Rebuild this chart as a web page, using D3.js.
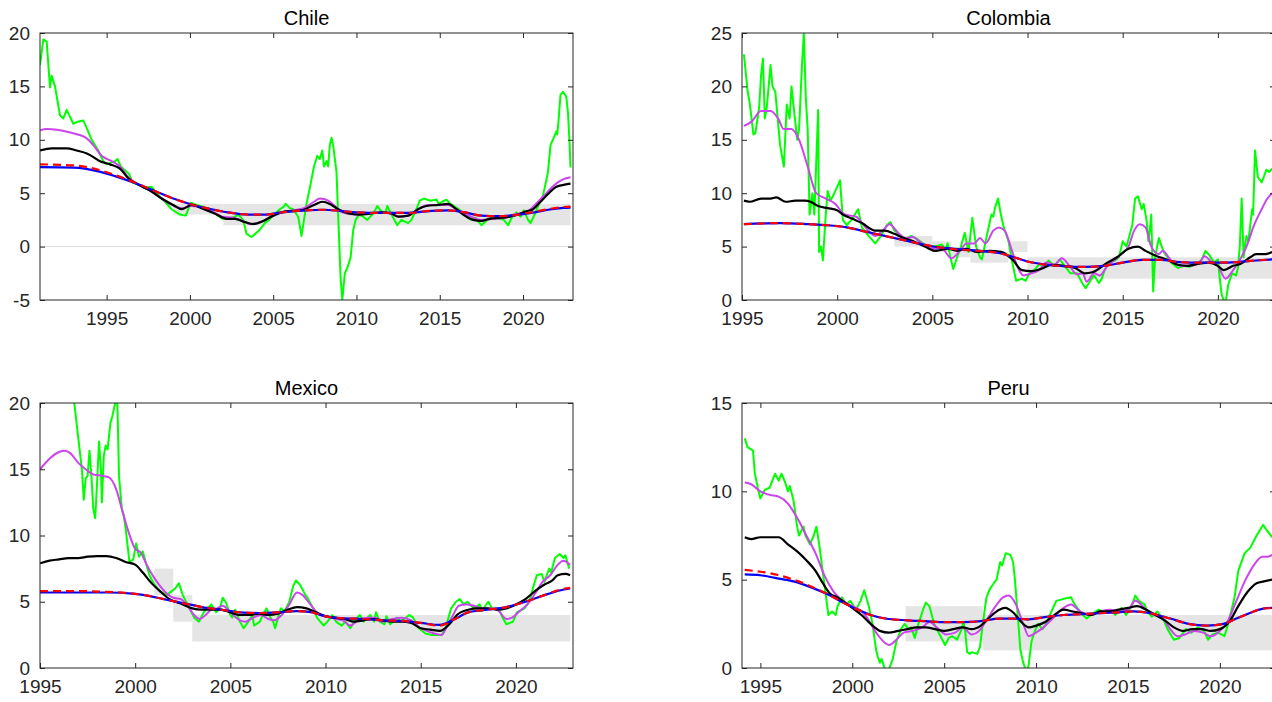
<!DOCTYPE html>
<html>
<head>
<meta charset="utf-8">
<script src="https://cdn.jsdelivr.net/npm/d3@7"></script>
<style>
  html, body { margin: 0; padding: 0; background: #fff; }
  svg { display: block; font-family: "Liberation Sans", Arial, sans-serif; }
</style>
</head>
<body>
<svg id="chart" width="1272" height="702"></svg>
<script>
// ---- Chile ----
const chileGreen = [[1991.0,17.0],[1991.2,19.4],[1991.4,19.2],[1991.6,14.9],[1991.7,16.0],[1991.9,15.0],[1992.2,12.3],[1992.4,12.0],[1992.6,12.8],[1993.0,11.5],[1993.25,11.7],[1993.6,11.8],[1993.75,11.3],[1994.1,10.0],[1994.5,9.0],[1994.8,8.0],[1995.0,7.7],[1995.5,8.0],[1995.65,8.2],[1995.85,7.5],[1996.2,7.0],[1996.35,6.8],[1996.55,6.0],[1996.9,5.8],[1997.3,5.5],[1997.7,5.6],[1998.0,5.0],[1998.3,4.5],[1998.5,4.2],[1998.9,3.5],[1999.4,3.0],[1999.75,2.9],[1999.9,3.5],[2000.05,4.1],[2000.4,3.9],[2000.85,3.7],[2001.2,3.5],[2001.6,3.0],[2001.95,2.6],[2002.3,2.6],[2002.7,2.8],[2002.9,3.0],[2003.2,2.5],[2003.4,1.2],[2003.7,0.9],[2004.15,1.5],[2004.5,2.2],[2004.75,2.5],[2005.05,3.0],[2005.4,3.5],[2005.6,3.7],[2005.75,4.0],[2006.0,3.6],[2006.2,3.5],[2006.5,2.8],[2006.7,1.0],[2006.85,2.5],[2007.0,4.0],[2007.2,5.5],[2007.45,7.5],[2007.65,8.5],[2007.8,8.2],[2007.95,9.0],[2008.05,7.5],[2008.2,8.0],[2008.3,7.5],[2008.4,9.5],[2008.5,10.2],[2008.6,9.5],[2008.8,7.0],[2008.9,3.0],[2009.05,-3.0],[2009.15,-5.0],[2009.3,-2.5],[2009.45,-2.0],[2009.55,-1.5],[2009.65,-1.0],[2009.8,1.5],[2009.95,2.5],[2010.15,3.0],[2010.4,2.8],[2010.65,2.5],[2010.95,3.0],[2011.15,3.5],[2011.25,3.8],[2011.5,3.3],[2011.75,3.2],[2011.85,3.8],[2012.1,3.0],[2012.45,2.0],[2012.7,2.5],[2013.1,2.2],[2013.3,2.5],[2013.6,3.5],[2013.8,4.3],[2014.05,4.5],[2014.45,4.3],[2014.8,4.4],[2014.95,4.0],[2015.15,4.2],[2015.4,4.4],[2015.65,4.0],[2016.15,3.5],[2016.5,3.0],[2016.9,2.5],[2017.15,2.7],[2017.5,2.0],[2017.85,2.5],[2018.2,2.8],[2018.6,2.6],[2018.85,2.5],[2019.1,2.0],[2019.35,2.8],[2019.6,3.2],[2019.85,2.8],[2020.05,3.4],[2020.3,2.5],[2020.45,2.2],[2020.7,3.0],[2020.9,3.8],[2021.15,4.5],[2021.3,5.5],[2021.5,7.0],[2021.65,9.5],[2021.85,10.2],[2022.0,10.8],[2022.05,10.5],[2022.1,11.2],[2022.25,14.2],[2022.4,14.5],[2022.6,14.0],[2022.7,12.5],[2022.8,9.5],[2022.85,7.4]];
const chileMagenta = [[1991.0,10.9],[1991.4,11.0],[1992.75,10.7],[1993.75,10.2],[1994.2,9.5],[1994.7,8.5],[1995.3,8.0],[1995.8,7.5],[1996.3,6.5],[1996.9,5.8],[1997.65,5.2],[1998.3,4.5],[1998.9,3.9],[1999.5,3.6],[2000.1,3.8],[2000.85,3.6],[2001.45,3.2],[2001.95,2.8],[2002.55,2.7],[2003.05,2.5],[2003.6,2.1],[2004.25,2.3],[2004.9,2.8],[2005.5,3.2],[2006.25,3.4],[2006.85,3.6],[2007.45,4.2],[2007.8,4.5],[2008.3,4.3],[2008.7,3.8],[2009.15,3.2],[2009.9,3.0],[2010.65,3.1],[2011.4,3.2],[2012.0,3.1],[2012.6,2.8],[2013.1,2.9],[2013.7,3.5],[2014.3,3.9],[2015.05,3.9],[2015.5,3.9],[2016.0,3.5],[2016.75,2.9],[2017.5,2.5],[2018.2,2.6],[2018.95,2.7],[2019.45,3.0],[2020.05,3.2],[2020.45,3.5],[2020.9,4.2],[2021.4,5.0],[2021.9,5.8],[2022.4,6.3],[2022.85,6.5]];
const chileBlack = [[1991.0,9.0],[1991.7,9.2],[1992.6,9.2],[1993.2,9.0],[1993.85,8.7],[1994.6,8.0],[1995.2,7.7],[1995.8,7.3],[1996.3,6.4],[1996.9,5.8],[1997.65,5.2],[1998.3,4.5],[1999.0,3.9],[1999.5,3.5],[2000.1,3.9],[2000.7,3.6],[2001.6,3.0],[2002.2,2.6],[2002.7,2.6],[2003.3,2.3],[2003.8,2.1],[2004.4,2.4],[2005.0,2.9],[2005.75,3.3],[2006.7,3.4],[2007.45,3.9],[2007.95,4.2],[2008.4,4.0],[2008.9,3.5],[2009.55,3.1],[2010.15,3.0],[2010.9,3.1],[2011.5,3.2],[2012.1,3.1],[2012.5,2.8],[2013.1,2.9],[2013.7,3.5],[2014.2,3.8],[2014.9,3.9],[2015.5,4.0],[2016.0,3.5],[2016.5,2.9],[2017.0,2.5],[2017.5,2.4],[2018.0,2.6],[2018.7,2.7],[2019.2,2.8],[2019.7,3.0],[2020.2,3.3],[2020.6,3.5],[2021.05,4.2],[2021.55,5.0],[2022.0,5.6],[2022.5,5.8],[2022.85,5.9]];
const chileRed = [[1991.0,7.7],[1993.0,7.6],[1994.5,7.2],[1995.5,6.7],[1996.7,6.0],[1997.9,5.2],[1999.0,4.5],[2000.2,3.9],[2001.3,3.5],[2002.3,3.2],[2003.5,3.0],[2004.5,3.0],[2005.5,3.2],[2007.0,3.4],[2008.0,3.45],[2009.0,3.35],[2010.0,3.2],[2011.5,3.15],[2013.0,3.15],[2014.5,3.35],[2015.5,3.4],[2016.5,3.2],[2017.5,2.9],[2018.5,2.85],[2019.5,2.95],[2020.5,3.2],[2021.5,3.5],[2022.4,3.7],[2022.85,3.75]];
const chileBlue = [[1991.0,7.45],[1993.0,7.4],[1994.5,7.05],[1995.5,6.6],[1996.7,5.95],[1997.9,5.2],[1999.0,4.5],[2000.2,3.9],[2001.3,3.5],[2002.3,3.2],[2003.5,3.0],[2004.5,3.0],[2005.5,3.2],[2007.0,3.4],[2008.0,3.45],[2009.0,3.35],[2010.0,3.2],[2011.5,3.15],[2013.0,3.15],[2014.5,3.35],[2015.5,3.4],[2016.5,3.2],[2017.5,2.9],[2018.5,2.85],[2019.5,2.95],[2020.5,3.15],[2021.5,3.45],[2022.4,3.62],[2022.85,3.65]];
const chileBands = [[1999.0,2002.0,3,4],[2002.0,2022.85,2,4]];

// ---- Colombia ----
const colombiaGreen = [[1995.1,23.0],[1995.3,19.5],[1995.4,18.5],[1995.6,15.5],[1995.7,15.6],[1995.9,18.0],[1996.0,21.0],[1996.1,22.6],[1996.2,17.0],[1996.3,18.0],[1996.4,20.0],[1996.5,22.0],[1996.6,20.0],[1996.75,19.5],[1997.0,14.5],[1997.2,12.5],[1997.35,18.3],[1997.5,17.0],[1997.6,20.0],[1997.75,17.5],[1997.9,15.0],[1998.0,16.0],[1998.15,22.0],[1998.25,25.0],[1998.35,19.0],[1998.45,16.0],[1998.55,8.0],[1998.7,10.0],[1998.8,8.0],[1999.0,17.8],[1999.05,4.5],[1999.15,5.0],[1999.25,3.7],[1999.4,8.0],[1999.5,10.2],[1999.65,9.3],[1999.85,10.0],[2000.15,11.2],[2000.3,7.5],[2000.5,7.0],[2000.75,7.5],[2001.1,8.5],[2001.3,6.8],[2001.65,6.0],[2002.0,5.3],[2002.3,6.0],[2002.6,7.0],[2002.8,7.3],[2003.0,6.5],[2003.35,6.0],[2003.55,5.7],[2003.9,6.0],[2004.2,5.7],[2004.5,5.3],[2004.8,5.0],[2005.1,5.0],[2005.5,5.2],[2005.7,4.7],[2005.8,5.3],[2005.95,4.0],[2006.1,2.9],[2006.3,4.0],[2006.5,5.0],[2006.7,6.3],[2006.9,4.5],[2007.1,7.7],[2007.3,5.0],[2007.5,4.0],[2007.6,3.8],[2007.8,5.5],[2008.1,8.0],[2008.2,7.8],[2008.3,8.7],[2008.45,9.5],[2008.6,8.0],[2008.75,6.8],[2009.0,5.5],[2009.2,3.5],[2009.4,1.8],[2009.7,2.0],[2009.9,1.8],[2010.1,2.5],[2010.35,2.8],[2010.65,3.4],[2010.85,3.0],[2011.1,3.7],[2011.4,3.2],[2011.7,3.8],[2011.95,3.2],[2012.25,2.5],[2012.6,2.5],[2012.9,1.5],[2013.05,1.1],[2013.3,1.8],[2013.5,2.3],[2013.75,1.6],[2013.9,2.0],[2014.05,2.8],[2014.25,3.5],[2014.6,3.7],[2014.8,4.0],[2015.0,5.5],[2015.2,5.0],[2015.5,7.0],[2015.65,9.5],[2015.8,9.7],[2016.0,8.5],[2016.1,9.0],[2016.25,7.5],[2016.35,5.5],[2016.45,7.0],[2016.5,8.0],[2016.6,0.8],[2016.7,4.0],[2016.9,5.8],[2017.15,4.5],[2017.35,4.0],[2017.55,3.5],[2017.9,3.0],[2018.2,3.2],[2018.5,3.1],[2018.95,3.4],[2019.15,3.8],[2019.35,4.6],[2019.55,4.2],[2019.8,3.5],[2020.0,3.8],[2020.1,2.0],[2020.2,0.5],[2020.3,0.0],[2020.4,-0.3],[2020.55,1.5],[2020.75,2.5],[2020.95,2.3],[2021.05,3.0],[2021.15,5.0],[2021.25,9.5],[2021.35,4.0],[2021.5,6.0],[2021.6,5.5],[2021.8,8.5],[2021.85,8.0],[2021.95,14.0],[2022.1,11.5],[2022.3,11.0],[2022.55,12.2],[2022.7,12.0],[2022.85,12.3]];
const colombiaMagenta = [[1995.1,16.3],[1995.5,16.7],[1996.0,17.7],[1996.5,17.7],[1996.9,17.0],[1997.2,16.0],[1997.6,16.0],[1998.0,15.0],[1998.45,12.5],[1998.9,10.0],[1999.4,9.5],[1999.9,9.0],[2000.4,8.0],[2001.0,7.8],[2001.4,7.0],[2002.0,6.0],[2002.4,6.5],[2002.75,7.1],[2003.2,6.3],[2003.6,5.8],[2004.0,5.9],[2004.3,5.5],[2004.7,5.0],[2005.2,4.8],[2005.5,4.8],[2006.0,3.9],[2006.4,4.5],[2006.8,5.3],[2007.2,5.3],[2007.5,5.8],[2007.8,5.3],[2008.2,6.5],[2008.5,6.8],[2008.8,6.5],[2009.2,4.5],[2009.5,3.0],[2009.8,2.3],[2010.2,2.5],[2010.6,2.8],[2011.0,3.5],[2011.4,3.3],[2011.8,3.9],[2012.2,3.2],[2012.6,2.4],[2012.9,2.5],[2013.1,1.7],[2013.5,2.5],[2013.8,2.3],[2014.2,3.2],[2014.6,3.8],[2015.0,4.4],[2015.3,5.0],[2015.6,6.5],[2015.9,7.1],[2016.2,6.8],[2016.5,5.0],[2016.9,4.3],[2017.1,4.6],[2017.5,3.8],[2018.0,3.2],[2018.5,3.2],[2019.0,3.4],[2019.3,4.1],[2019.7,3.5],[2020.0,3.2],[2020.4,2.0],[2020.8,2.8],[2021.1,3.6],[2021.5,5.0],[2021.9,7.0],[2022.3,8.5],[2022.6,9.5],[2022.85,10.0]];
const colombiaBlack = [[1995.1,9.3],[1995.4,9.2],[1996.0,9.5],[1996.5,9.5],[1996.8,9.6],[1997.3,9.2],[1997.8,9.3],[1998.3,9.3],[1998.6,9.2],[1999.0,8.8],[1999.5,8.6],[2000.0,8.4],[2000.3,8.0],[2000.8,7.6],[2001.3,7.2],[2002.0,6.5],[2002.5,6.5],[2003.0,6.2],[2003.5,5.8],[2004.0,5.5],[2004.6,5.0],[2005.2,4.6],[2005.8,4.8],[2006.3,4.6],[2006.8,4.8],[2007.3,4.5],[2008.0,4.6],[2008.6,4.5],[2009.2,3.8],[2009.7,2.8],[2010.2,2.7],[2010.7,2.9],[2011.3,3.3],[2011.9,3.2],[2012.5,3.0],[2013.0,2.5],[2013.4,2.6],[2014.2,3.5],[2014.7,4.0],[2015.3,4.8],[2015.8,5.0],[2016.2,4.6],[2016.8,4.1],[2017.3,3.8],[2017.9,3.3],[2018.4,3.2],[2019.0,3.4],[2019.5,3.5],[2020.0,3.2],[2020.3,2.8],[2020.8,3.2],[2021.2,3.4],[2021.7,4.0],[2022.0,4.3],[2022.5,4.3],[2022.85,4.5]];
const colombiaRed = [[1995.1,7.1],[1997.0,7.2],[1998.5,7.1],[1999.5,7.0],[2000.5,6.8],[2001.5,6.4],[2002.5,6.0],[2003.5,5.6],[2004.5,5.2],[2005.5,4.9],[2006.5,4.7],[2007.5,4.6],[2008.5,4.4],[2009.3,4.0],[2010.0,3.6],[2011.0,3.3],[2012.0,3.15],[2013.0,3.1],[2014.0,3.2],[2015.0,3.5],[2016.0,3.75],[2017.0,3.75],[2018.0,3.55],[2019.0,3.5],[2020.0,3.5],[2021.0,3.55],[2022.0,3.7],[2022.85,3.8]];
const colombiaBlue = [[1995.1,7.1],[1997.0,7.2],[1998.5,7.1],[1999.5,7.0],[2000.5,6.8],[2001.5,6.4],[2002.5,6.0],[2003.5,5.6],[2004.5,5.2],[2005.5,4.9],[2006.5,4.75],[2007.5,4.6],[2008.5,4.4],[2009.3,4.0],[2010.0,3.6],[2011.0,3.3],[2012.0,3.15],[2013.0,3.1],[2014.0,3.2],[2015.0,3.5],[2016.0,3.75],[2017.0,3.75],[2018.0,3.55],[2019.0,3.5],[2020.0,3.5],[2021.0,3.55],[2022.0,3.7],[2022.85,3.8]];
const colombiaBands = [[2003,2005,5,6],[2005,2006,4.5,5.5],[2006,2007,4,5],[2007,2009,3.5,4.5],[2009,2010,4.5,5.5],[2010,2023,2,4]];

// ---- Mexico ----
const mexicoGreen = [[1995.0,30.0],[1995.5,45.0],[1995.9,50.0],[1996.3,30.0],[1996.7,24.0],[1996.8,20.0],[1997.2,15.0],[1997.3,12.7],[1997.4,14.3],[1997.5,14.5],[1997.6,16.4],[1997.7,14.5],[1997.8,12.0],[1997.9,11.3],[1998.0,14.0],[1998.1,17.1],[1998.2,15.0],[1998.25,12.5],[1998.35,16.0],[1998.45,16.8],[1998.55,16.5],[1998.7,18.5],[1998.8,19.0],[1998.95,20.0],[1999.05,21.0],[1999.15,14.5],[1999.3,12.0],[1999.4,11.5],[1999.5,10.5],[1999.7,8.0],[1999.9,8.2],[2000.05,9.4],[2000.2,8.4],[2000.4,8.8],[2000.55,8.0],[2000.75,7.0],[2001.0,6.3],[2001.3,5.8],[2001.65,5.5],[2002.1,6.0],[2002.3,6.4],[2002.5,5.5],[2002.85,4.5],[2003.1,3.8],[2003.35,3.5],[2003.6,4.2],[2003.8,4.5],[2004.0,4.8],[2004.25,4.2],[2004.45,4.5],[2004.6,5.3],[2004.75,5.0],[2005.0,4.0],[2005.1,3.8],[2005.25,4.4],[2005.5,3.5],[2005.7,3.0],[2005.95,3.5],[2006.15,4.0],[2006.25,3.2],[2006.55,3.5],[2006.7,4.0],[2006.9,4.5],[2007.1,3.8],[2007.25,3.5],[2007.35,3.0],[2007.5,3.8],[2007.65,4.5],[2007.85,4.3],[2008.1,5.0],[2008.3,6.2],[2008.45,6.6],[2008.65,6.3],[2008.95,5.5],[2009.05,5.3],[2009.35,4.5],[2009.55,3.8],[2009.9,3.2],[2010.1,3.5],[2010.35,4.0],[2010.55,3.5],[2010.85,3.2],[2011.05,3.5],[2011.3,3.0],[2011.5,3.5],[2011.8,4.0],[2012.0,3.5],[2012.35,4.0],[2012.55,3.5],[2012.65,4.2],[2012.85,3.5],[2013.1,3.3],[2013.2,3.9],[2013.4,3.3],[2013.75,3.8],[2013.95,3.5],[2014.4,4.0],[2014.6,3.8],[2014.9,3.0],[2015.25,2.6],[2015.55,2.5],[2016.1,2.5],[2016.3,3.0],[2016.4,3.5],[2016.6,4.5],[2016.85,5.0],[2017.05,5.2],[2017.25,4.8],[2017.45,5.0],[2017.8,4.5],[2018.1,4.8],[2018.2,4.3],[2018.55,5.0],[2018.75,4.5],[2019.1,4.5],[2019.3,3.8],[2019.5,3.3],[2019.85,3.5],[2020.05,4.2],[2020.45,4.5],[2020.7,5.0],[2020.8,5.5],[2020.95,6.3],[2021.1,7.0],[2021.35,7.1],[2021.5,6.5],[2021.75,7.5],[2021.85,7.2],[2022.05,8.3],[2022.3,8.6],[2022.5,8.3],[2022.6,8.5],[2022.8,7.5]];
const mexicoMagenta = [[1995.0,15.0],[1995.5,15.8],[1996.0,16.3],[1996.3,16.4],[1996.6,16.2],[1997.0,15.5],[1997.4,15.0],[1997.8,14.6],[1998.3,14.5],[1998.6,14.4],[1999.0,13.5],[1999.3,12.0],[1999.6,10.5],[2000.0,9.0],[2000.3,8.7],[2000.6,7.8],[2001.0,6.8],[2001.3,6.2],[2001.6,5.7],[2002.0,5.3],[2002.4,5.2],[2002.7,4.8],[2003.1,4.0],[2003.4,3.7],[2003.7,4.0],[2004.0,4.4],[2004.3,4.5],[2004.6,4.7],[2005.0,4.2],[2005.5,3.6],[2005.8,3.5],[2006.2,3.8],[2006.6,4.0],[2007.0,3.7],[2007.3,3.6],[2007.7,4.0],[2008.1,4.8],[2008.5,5.7],[2008.8,5.5],[2009.2,4.8],[2009.7,4.0],[2010.1,3.9],[2010.5,3.7],[2010.9,3.6],[2011.3,3.2],[2011.7,3.6],[2012.2,3.8],[2012.6,3.8],[2013.0,3.5],[2013.5,3.7],[2014.0,3.8],[2014.5,3.6],[2015.0,3.0],[2015.5,2.7],[2016.1,2.5],[2016.4,3.2],[2016.7,4.0],[2017.0,4.7],[2017.4,4.8],[2017.8,4.7],[2018.2,4.5],[2018.7,4.5],[2019.1,4.3],[2019.5,3.7],[2019.8,3.8],[2020.2,4.3],[2020.6,4.8],[2021.0,5.6],[2021.4,6.5],[2021.8,7.0],[2022.2,7.8],[2022.5,8.1],[2022.85,7.8]];
const mexicoBlack = [[1995.0,7.9],[1995.5,8.1],[1996.0,8.2],[1996.5,8.3],[1997.0,8.3],[1997.5,8.4],[1998.0,8.45],[1998.5,8.45],[1999.0,8.3],[1999.5,8.0],[2000.0,7.8],[2000.4,7.2],[2000.8,6.5],[2001.3,5.8],[2001.8,5.2],[2002.5,4.8],[2003.0,4.5],[2003.5,4.4],[2004.0,4.4],[2004.5,4.4],[2005.0,4.2],[2005.5,4.0],[2006.0,4.0],[2006.5,4.1],[2007.0,4.0],[2007.5,4.1],[2008.0,4.4],[2008.5,4.6],[2009.0,4.5],[2009.5,4.2],[2010.0,3.9],[2010.5,3.8],[2011.0,3.7],[2011.5,3.5],[2012.0,3.6],[2012.5,3.7],[2013.0,3.6],[2013.5,3.5],[2014.0,3.5],[2014.5,3.4],[2015.0,3.0],[2015.5,2.9],[2016.0,2.8],[2016.5,3.3],[2016.9,4.0],[2017.5,4.4],[2018.0,4.5],[2018.5,4.5],[2019.0,4.4],[2019.5,4.5],[2020.0,4.8],[2020.5,5.2],[2021.0,5.8],[2021.5,6.3],[2021.9,6.6],[2022.2,7.0],[2022.6,7.1],[2022.85,7.0]];
const mexicoRed = [[1995.0,5.8],[1997.0,5.8],[1998.5,5.75],[2000.0,5.6],[2000.5,5.5],[2001.5,5.2],[2002.5,4.9],[2003.5,4.6],[2004.5,4.4],[2005.5,4.2],[2006.5,4.15],[2007.5,4.2],[2008.5,4.3],[2009.3,4.2],[2010.0,3.9],[2011.0,3.75],[2012.0,3.7],[2013.0,3.6],[2014.0,3.55],[2015.0,3.4],[2016.0,3.2],[2016.8,3.7],[2017.5,4.2],[2018.5,4.4],[2019.5,4.6],[2020.5,5.0],[2021.5,5.5],[2022.3,5.9],[2022.85,6.05]];
const mexicoBlue = [[1995.0,5.7],[1997.0,5.7],[1998.5,5.7],[2000.0,5.6],[2000.5,5.5],[2001.5,5.2],[2002.5,4.9],[2003.5,4.6],[2004.5,4.4],[2005.5,4.2],[2006.5,4.15],[2007.5,4.2],[2008.5,4.3],[2009.3,4.2],[2010.0,3.9],[2011.0,3.75],[2012.0,3.7],[2013.0,3.6],[2014.0,3.55],[2015.0,3.4],[2016.0,3.25],[2016.8,3.7],[2017.5,4.2],[2018.5,4.4],[2019.5,4.6],[2020.5,5.0],[2021.5,5.5],[2022.3,5.85],[2022.85,6.0]];
const mexicoBands = [[2001,2002,5.5,7.5],[2002,2003,3.5,5.5],[2003,2022.85,2,4]];

// ---- Peru ----
const peruGreen = [[1994.15,13.0],[1994.3,12.5],[1994.6,12.3],[1994.7,11.0],[1994.9,10.0],[1995.0,9.6],[1995.25,10.1],[1995.5,10.2],[1995.8,11.0],[1996.0,10.6],[1996.15,11.0],[1996.35,10.5],[1996.5,10.0],[1996.6,10.3],[1996.8,9.5],[1997.0,8.0],[1997.1,7.5],[1997.35,8.0],[1997.45,7.5],[1997.7,7.0],[1997.9,7.5],[1998.05,8.0],[1998.2,7.0],[1998.45,5.0],[1998.7,3.0],[1998.9,3.2],[1999.1,3.0],[1999.2,3.5],[1999.45,4.0],[1999.65,3.6],[1999.9,3.8],[2000.2,3.3],[2000.45,3.8],[2000.65,4.4],[2000.9,3.5],[2001.1,2.5],[2001.3,1.0],[2001.4,0.6],[2001.5,0.3],[2001.6,0.5],[2001.75,0.0],[2001.95,-0.2],[2002.2,0.5],[2002.4,1.5],[2002.65,2.2],[2002.85,2.5],[2003.05,2.2],[2003.2,2.3],[2003.4,1.7],[2003.6,2.5],[2003.85,3.3],[2004.0,3.7],[2004.2,3.5],[2004.45,2.5],[2004.7,2.0],[2005.05,1.3],[2005.25,1.7],[2005.45,1.8],[2005.7,1.6],[2005.95,2.2],[2006.05,2.6],[2006.15,2.0],[2006.25,0.9],[2006.4,0.8],[2006.5,0.9],[2006.8,0.8],[2006.95,1.2],[2007.1,2.5],[2007.3,4.0],[2007.5,4.5],[2007.7,4.8],[2007.85,5.0],[2008.05,6.0],[2008.15,5.8],[2008.35,6.5],[2008.6,6.4],[2008.75,6.0],[2008.85,5.0],[2009.0,3.0],[2009.15,1.0],[2009.3,0.3],[2009.4,0.0],[2009.5,-0.3],[2009.6,0.2],[2009.75,1.5],[2009.9,2.0],[2010.1,2.5],[2010.35,2.2],[2010.55,2.5],[2010.75,3.0],[2011.1,3.8],[2011.45,3.9],[2011.9,4.0],[2012.1,3.6],[2012.55,3.0],[2012.75,2.8],[2013.1,3.1],[2013.4,3.3],[2013.75,3.1],[2014.1,3.3],[2014.3,3.0],[2014.65,3.4],[2014.9,3.0],[2015.2,3.5],[2015.4,4.1],[2015.6,3.8],[2015.9,3.6],[2016.05,3.2],[2016.3,2.9],[2016.6,3.2],[2016.95,2.7],[2017.15,2.2],[2017.5,1.6],[2017.8,1.7],[2018.15,2.2],[2018.45,2.0],[2018.8,2.3],[2019.15,2.1],[2019.35,1.6],[2019.6,1.9],[2019.9,2.0],[2020.25,1.8],[2020.45,2.5],[2020.8,4.0],[2021.0,5.5],[2021.35,6.5],[2021.65,6.8],[2022.0,7.5],[2022.35,8.1],[2022.55,7.8],[2022.85,7.4]];
const peruMagenta = [[1994.15,10.5],[1994.5,10.4],[1995.0,10.0],[1995.5,9.8],[1996.0,9.7],[1996.5,9.3],[1997.0,8.5],[1997.5,7.5],[1998.0,6.5],[1998.5,5.2],[1999.0,4.3],[1999.5,3.8],[2000.0,3.5],[2000.4,3.3],[2000.7,3.0],[2001.3,2.0],[2001.8,1.4],[2002.0,1.3],[2002.4,1.6],[2002.8,2.0],[2003.3,2.1],[2003.8,2.3],[2004.2,2.6],[2004.6,2.3],[2005.1,1.9],[2005.6,2.0],[2006.0,2.3],[2006.5,1.9],[2006.9,2.1],[2007.3,2.7],[2007.8,3.5],[2008.2,4.0],[2008.5,4.1],[2008.9,3.6],[2009.3,2.5],[2009.6,1.8],[2010.0,2.0],[2010.4,2.3],[2010.9,2.8],[2011.5,3.4],[2011.9,3.6],[2012.4,3.2],[2012.9,3.0],[2013.5,3.2],[2014.0,3.3],[2014.5,3.2],[2015.0,3.3],[2015.4,3.8],[2015.9,3.4],[2016.4,3.0],[2016.9,2.8],[2017.3,2.2],[2017.7,1.8],[2018.1,1.9],[2018.6,2.1],[2019.1,2.0],[2019.5,1.8],[2020.0,2.1],[2020.4,2.6],[2020.9,3.8],[2021.4,5.0],[2021.9,5.9],[2022.3,6.3],[2022.6,6.3],[2022.85,6.4]];
const peruBlack = [[1994.15,7.4],[1994.5,7.3],[1995.0,7.4],[1995.5,7.4],[1996.0,7.4],[1996.5,7.0],[1997.0,6.6],[1997.5,6.1],[1998.0,5.5],[1998.4,4.8],[1998.8,4.2],[1999.2,4.0],[1999.6,3.7],[2000.0,3.4],[2000.5,3.0],[2001.0,2.5],[2001.5,2.1],[2002.0,2.0],[2002.5,2.1],[2003.0,2.2],[2003.5,2.3],[2004.0,2.3],[2004.5,2.2],[2005.0,2.1],[2005.5,2.2],[2006.0,2.3],[2006.5,2.2],[2007.0,2.4],[2007.5,2.9],[2008.0,3.3],[2008.3,3.4],[2008.8,3.1],[2009.2,2.6],[2009.6,2.3],[2010.0,2.4],[2010.5,2.6],[2011.0,3.0],[2011.5,3.3],[2012.0,3.2],[2012.5,3.1],[2013.0,3.0],[2013.5,3.2],[2014.0,3.2],[2014.5,3.3],[2015.0,3.4],[2015.5,3.5],[2016.0,3.3],[2016.5,3.0],[2017.0,2.7],[2017.5,2.3],[2018.0,2.1],[2018.5,2.2],[2019.0,2.2],[2019.5,2.1],[2020.0,2.2],[2020.5,2.6],[2021.0,3.5],[2021.5,4.3],[2022.0,4.8],[2022.4,4.9],[2022.85,5.0]];
const peruRed = [[1994.15,5.55],[1995.0,5.45],[1995.8,5.3],[1996.8,5.0],[1997.8,4.6],[1998.8,4.1],[1999.5,3.7],[2000.3,3.3],[2001.0,3.0],[2001.8,2.8],[2003.0,2.7],[2004.0,2.65],[2005.0,2.6],[2006.0,2.6],[2007.0,2.65],[2008.0,2.8],[2009.0,2.8],[2009.5,2.75],[2010.3,2.85],[2011.5,3.0],[2012.5,3.05],[2013.5,3.1],[2014.5,3.15],[2015.3,3.2],[2016.2,3.1],[2017.3,2.8],[2018.3,2.5],[2019.3,2.4],[2020.2,2.5],[2020.9,2.8],[2021.6,3.1],[2022.3,3.35],[2022.85,3.4]];
const peruBlue = [[1994.15,5.3],[1995.0,5.25],[1995.8,5.1],[1996.8,4.9],[1997.8,4.55],[1998.8,4.1],[1999.5,3.7],[2000.3,3.3],[2001.0,3.0],[2001.8,2.8],[2003.0,2.7],[2004.0,2.65],[2005.0,2.6],[2006.0,2.6],[2007.0,2.65],[2008.0,2.8],[2009.0,2.8],[2009.5,2.75],[2010.3,2.85],[2011.5,3.0],[2012.5,3.05],[2013.5,3.1],[2014.5,3.15],[2015.3,3.2],[2016.2,3.1],[2017.3,2.8],[2018.3,2.5],[2019.3,2.4],[2020.2,2.5],[2020.9,2.8],[2021.6,3.1],[2022.3,3.35],[2022.85,3.4]];
const peruBands = [[2002.9,2007.1,1.5,3.5],[2007.1,2023,1,3]];

const xTicks = [1995, 2000, 2005, 2010, 2015, 2020];

const panels = [
  { title: "Chile", x0: 40, y0: 33, h: 267, xDom: [1991, 2023], yDom: [-5, 20], yTicks: [-5, 0, 5, 10, 15, 20], zero: true,
    bands: chileBands, green: chileGreen, magenta: chileMagenta, black: chileBlack, red: chileRed, blue: chileBlue },
  { title: "Colombia", x0: 742, y0: 33, h: 267, xDom: [1995, 2023], yDom: [0, 25], yTicks: [0, 5, 10, 15, 20, 25],
    bands: colombiaBands, green: colombiaGreen, magenta: colombiaMagenta, black: colombiaBlack, red: colombiaRed, blue: colombiaBlue },
  { title: "Mexico", x0: 40, y0: 403, h: 265, xDom: [1995, 2023], yDom: [0, 20], yTicks: [0, 5, 10, 15, 20],
    bands: mexicoBands, green: mexicoGreen, magenta: mexicoMagenta, black: mexicoBlack, red: mexicoRed, blue: mexicoBlue },
  { title: "Peru", x0: 742, y0: 403, h: 265, xDom: [1994, 2023], yDom: [0, 15], yTicks: [0, 5, 10, 15],
    bands: peruBands, green: peruGreen, magenta: peruMagenta, black: peruBlack, red: peruRed, blue: peruBlue }
];

const W = 533;
const axisColor = "#262626";
const svg = d3.select("#chart");
const fmt = d => String(d); // plain hyphen for negatives, like the original

panels.forEach((p, i) => {
  const x = d3.scaleLinear().domain(p.xDom).range([0, W]);
  const y = d3.scaleLinear().domain(p.yDom).range([p.h, 0]);
  const g = svg.append("g").attr("transform", `translate(${p.x0},${p.y0})`);

  g.append("clipPath").attr("id", "clip" + i)
    .append("rect").attr("width", W).attr("height", p.h);

  const plot = g.append("g").attr("clip-path", `url(#clip${i})`);

  // target bands
  plot.selectAll("rect.band").data(p.bands).join("rect")
    .attr("class", "band")
    .attr("x", d => x(d[0]))
    .attr("width", d => x(d[1]) - x(d[0]))
    .attr("y", d => y(d[3]))
    .attr("height", d => y(d[2]) - y(d[3]))
    .attr("fill", "#e5e5e5");

  if (p.zero) {
    plot.append("line")
      .attr("x1", 0).attr("x2", W)
      .attr("y1", y(0)).attr("y2", y(0))
      .attr("stroke", "#dedede").attr("stroke-width", 1);
  }

  const line = d3.line().x(d => x(d[0])).y(d => y(d[1]));
  const smooth = d3.line().x(d => x(d[0])).y(d => y(d[1])).curve(d3.curveMonotoneX);

  plot.append("path").attr("d", line(p.green))
    .attr("fill", "none").attr("stroke", "#00ff00").attr("stroke-width", 2)
    .attr("stroke-linejoin", "round");
  plot.append("path").attr("d", smooth(p.magenta))
    .attr("fill", "none").attr("stroke", "#cc44ee").attr("stroke-width", 2);
  plot.append("path").attr("d", smooth(p.black))
    .attr("fill", "none").attr("stroke", "#000").attr("stroke-width", 2.2);
  plot.append("path").attr("d", smooth(p.blue))
    .attr("fill", "none").attr("stroke", "#0000ff").attr("stroke-width", 2.2);
  plot.append("path").attr("d", smooth(p.red))
    .attr("fill", "none").attr("stroke", "#ff0000").attr("stroke-width", 2.2)
    .attr("stroke-dasharray", "8,5");

  // axes (MATLAB style: inward ticks, box)
  const xd = x.domain();
  const xt = xTicks.filter(t => t >= xd[0] && t <= xd[1]);

  g.append("g")
    .attr("transform", `translate(0,${p.h})`)
    .call(d3.axisBottom(x).tickValues(xt).tickFormat(fmt).tickSizeInner(-5).tickSizeOuter(0).tickPadding(12))
    .call(a => a.select(".domain").remove());
  g.append("g")
    .call(d3.axisTop(x).tickValues(xt).tickFormat("").tickSizeInner(-5).tickSizeOuter(0))
    .call(a => a.select(".domain").remove());
  g.append("g")
    .call(d3.axisLeft(y).tickValues(p.yTicks).tickFormat(fmt).tickSizeInner(-5).tickSizeOuter(0).tickPadding(10))
    .call(a => a.select(".domain").remove());
  g.append("g")
    .attr("transform", `translate(${W},0)`)
    .call(d3.axisRight(y).tickValues(p.yTicks).tickFormat("").tickSizeInner(-5).tickSizeOuter(0))
    .call(a => a.select(".domain").remove());

  g.append("rect")
    .attr("width", W).attr("height", p.h)
    .attr("fill", "none").attr("stroke", axisColor).attr("stroke-width", 1);

  g.selectAll(".tick line").attr("stroke", axisColor);
  g.selectAll(".tick text")
    .attr("fill", axisColor)
    .style("font-family", "'Liberation Sans', Arial, sans-serif")
    .style("font-size", "19px");

  g.append("text")
    .attr("x", W / 2).attr("y", -8)
    .attr("text-anchor", "middle")
    .attr("fill", "#000")
    .style("font-size", "20px")
    .text(p.title);
});
</script>
</body>
</html>
